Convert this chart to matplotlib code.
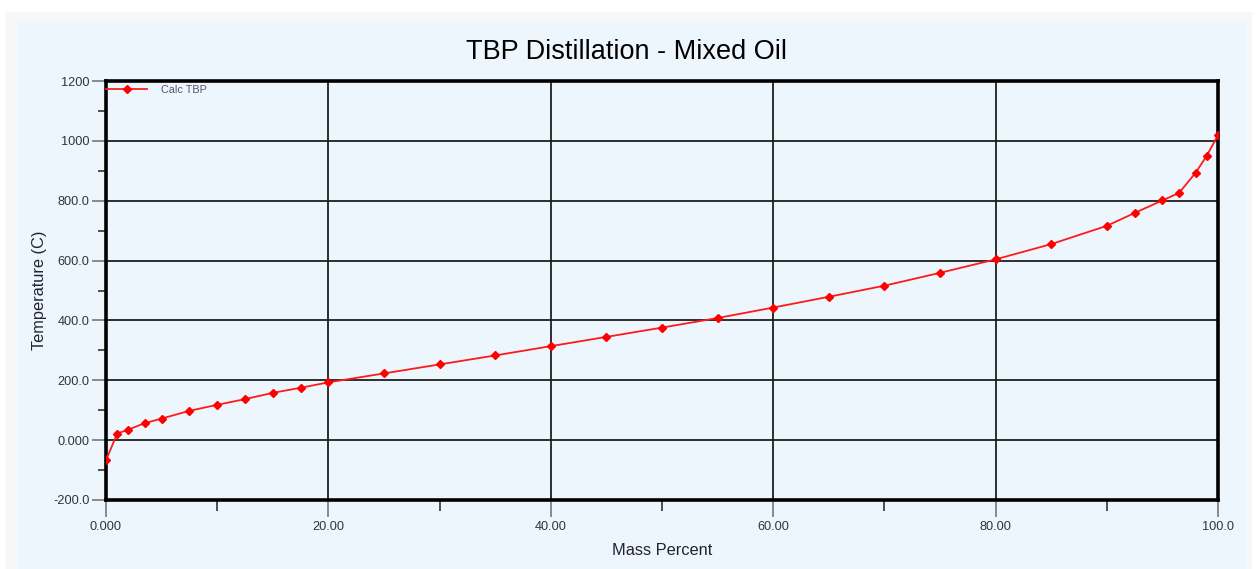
import matplotlib
matplotlib.use("Agg")
import matplotlib.pyplot as plt
from matplotlib.patches import Rectangle
from matplotlib.ticker import FixedLocator, FixedFormatter, MultipleLocator

plt.rcParams['font.family'] = ['Liberation Sans', 'DejaVu Sans']

# TBP curve: mass percent distilled vs. temperature
mass_pct = [0, 1, 2, 3.5, 5, 7.5, 10, 12.5, 15, 17.5, 20, 25, 30, 35, 40, 45,
            50, 55, 60, 65, 70, 75, 80, 85, 90, 92.5, 95, 96.5, 98, 99, 100]
temp_c = [-68, 22, 35, 57, 72, 98, 118, 137, 158, 175, 193, 223, 253, 283, 314, 345,
          376, 408, 443, 479, 516, 559, 604, 655, 716, 759, 801, 826, 894, 951, 1019]

x_ticks = [0, 20, 40, 60, 80, 100]
x_tick_labels = ["0.000", "20.00", "40.00", "60.00", "80.00", "100.0"]
y_ticks = [-200, 0, 200, 400, 600, 800, 1000, 1200]
y_tick_labels = ["-200.0", "0.000", "200.0", "400.0", "600.0", "800.0", "1000", "1200"]

W, H = 1257, 569
fig = plt.figure(figsize=(W / 100, H / 100), dpi=100)
fig.patch.set_facecolor("white")

# panel backgrounds
fig.add_artist(Rectangle((5 / W, 0), 1247 / W, 1 - 12 / H, transform=fig.transFigure,
                         facecolor="#f6f7f8", edgecolor="none", zorder=-3))
fig.add_artist(Rectangle((17 / W, 0), 1230 / W, 1 - 21 / H, transform=fig.transFigure,
                         facecolor="#eef6fd", edgecolor="none", zorder=-2))

left, right, top, bottom = 106, 1218, 81, 500
ax = fig.add_axes([left / W, 1 - bottom / H, (right - left) / W, (bottom - top) / H])
ax.set_facecolor("#eef6fd")

ax.plot(mass_pct, temp_c, color="#ff1a1a", lw=1.3, marker="D", markersize=4.5,
        markerfacecolor="#ff0000", markeredgecolor="#ff0000", label="Calc TBP", zorder=3)

ax.set_xlim(0, 100)
ax.set_ylim(-200, 1200)
ax.xaxis.set_major_locator(FixedLocator(x_ticks))
ax.xaxis.set_major_formatter(FixedFormatter(x_tick_labels))
ax.yaxis.set_major_locator(FixedLocator(y_ticks))
ax.yaxis.set_major_formatter(FixedFormatter(y_tick_labels))
ax.xaxis.set_minor_locator(MultipleLocator(10))
ax.yaxis.set_minor_locator(MultipleLocator(100))

ax.grid(True, which="major", color="#1e1e1e", lw=1.3, zorder=1)
ax.set_axisbelow(True)
for s in ax.spines.values():
    s.set_linewidth(2.6)
    s.set_color("black")

ax.tick_params(which="major", direction="out", length=10, width=1.2, color="#777777",
               labelsize=9.2, labelcolor="#333333", pad=2)
ax.tick_params(which="minor", direction="out", length=6, width=1.2, color="#333333")
ax.tick_params(axis="x", which="major", length=12, pad=3)
ax.tick_params(axis="x", which="minor", length=8)

ax.set_xlabel("Mass Percent", fontsize=11.8, color="#222233", labelpad=7)
ax.set_ylabel("Temperature (C)", fontsize=11.8, color="#222233", labelpad=4)
fig.text(626 / W, 1 - 52 / H, "TBP Distillation - Mixed Oil", fontsize=19.5,
         ha="center", va="center", color="black")

leg = ax.legend(loc="center left", bbox_to_anchor=(left / W, 1 - 90 / H),
                bbox_transform=fig.transFigure, frameon=False, fontsize=7.8,
                handlelength=3.8, handletextpad=1.3, borderpad=0, borderaxespad=0)
for t in leg.get_texts():
    t.set_color("#555566")

fig.savefig("out.png", dpi=100)
